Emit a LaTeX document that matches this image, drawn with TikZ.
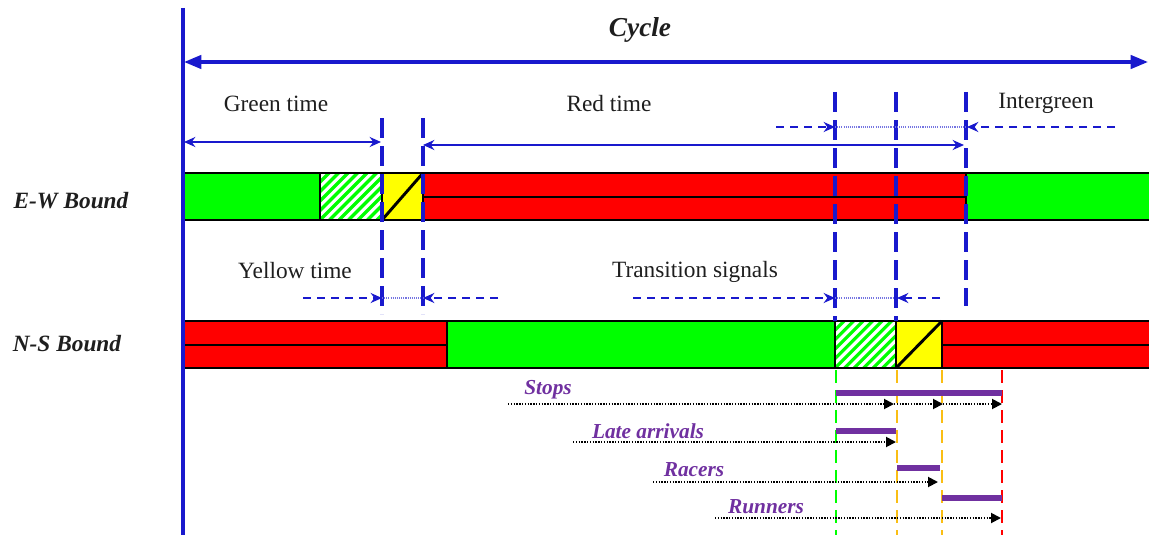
\documentclass[tikz,border=0pt]{standalone}
\usepackage{fontspec}
\setmainfont{Liberation Serif}
\usetikzlibrary{arrows.meta}
\definecolor{sigblue}{RGB}{25,25,205}
\definecolor{siggreen}{RGB}{0,255,0}
\definecolor{sigred}{RGB}{255,0,0}
\definecolor{sigyellow}{RGB}{255,255,0}
\definecolor{sigpurple}{RGB}{112,48,160}
\definecolor{sigorange}{RGB}{250,190,20}
\definecolor{txt}{RGB}{30,30,30}

% striped (hatched) phase box: x1, x2, top, bottom
\newcommand\hatchbox[4]{%
  \begin{scope}
    \clip (#1,#3) rectangle (#2,#4);
    \fill[white] (#1,#3) rectangle (#2,#4);
    \foreach \k in {-7,...,9}
      \draw[siggreen, line width=2.4pt] ({#1+\k*9.5},#4) -- ++(70,-70);
  \end{scope}
  \draw[seg] (#1,#3) rectangle (#2,#4);
}

\begin{document}
\begin{tikzpicture}[x=0.75pt,y=-0.75pt,
  lbl/.style={font=\fontsize{17.5}{20}\selectfont, text=txt, inner sep=0pt},
  bound/.style={font=\fontsize{17.5}{20}\selectfont\bfseries\itshape, text=txt, inner sep=0pt},
  cyc/.style={font=\fontsize{20.5}{24}\selectfont\bfseries\itshape, text=txt, inner sep=0pt},
  ptxt/.style={font=\fontsize{16}{19}\selectfont\bfseries\itshape, text=sigpurple, inner sep=0pt},
  seg/.style={draw=black, line width=2.2pt},
  guide/.style={draw=sigblue, line width=2.5pt, dash pattern=on 15pt off 6pt},
  span/.style={draw=sigblue, line width=1.8pt,
    {Stealth[length=8.5pt,width=7.5pt]}-{Stealth[length=8.5pt,width=7.5pt]}},
  gap/.style={draw=sigblue, line width=2pt, dash pattern=on 6pt off 4.5pt,
    -{Stealth[length=8.5pt,width=7.5pt]}},
  fine/.style={draw=sigblue!60, line width=1pt, dash pattern=on 0.8pt off 0.8pt},
  tick/.style={line width=1.8pt, dash pattern=on 10pt off 5pt},
  pbar/.style={draw=sigpurple, line width=4.6pt},
  flow/.style={draw=black, line width=1.4pt, dash pattern=on 1pt off 1.1pt,
    -{Triangle[length=7.5pt,width=7.5pt]}}
]
\useasboundingbox (0,0) rectangle (1149,535);

% ---- E-W signal bar ----
\draw[seg, fill=siggreen] (182,173) rectangle (320,220);
\hatchbox{320}{382}{173}{220}
\draw[seg, fill=sigyellow] (382,173) rectangle (423,220);
\draw[seg] (382,220) -- (423,173);
\draw[seg, fill=sigred] (423,173) rectangle (966,220);
\draw[seg] (423,197) -- (966,197);
\draw[seg, fill=siggreen] (966,173) rectangle (1155,220);

% ---- N-S signal bar ----
\draw[seg, fill=sigred] (182,321) rectangle (447,368);
\draw[seg] (182,345) -- (447,345);
\draw[seg, fill=siggreen] (447,321) rectangle (835,368);
\hatchbox{835}{896}{321}{368}
\draw[seg, fill=sigyellow] (896,321) rectangle (942,368);
\draw[seg] (896,368) -- (942,321);
\draw[seg, fill=sigred] (942,321) rectangle (1155,368);
\draw[seg] (942,345) -- (1155,345);

% ---- phase boundaries ----
\draw[guide] (382,118) -- (382,314);
\draw[guide] (423,118) -- (423,314);
\draw[guide] (835,92) -- (835,321);
\draw[guide] (896,92) -- (896,321);
\draw[guide] (966,92) -- (966,306);

% ---- time axis ----
\draw[sigblue, line width=2.4pt] (183,8) -- (183,535);
\draw[sigblue, line width=2.5pt,
  {Triangle[length=13pt,width=10pt]}-{Triangle[length=13pt,width=10pt]}]
  (184,62) -- (1148,62);
\node[cyc] (cycle) at (640,30) {Cycle};

% ---- interval spans ----
\node[lbl] (green) at (276,104) {Green time};
\draw[span] (184,142) -- (381,142);
\node[lbl] (redt) at (609,104) {Red time};
\draw[span] (423,145) -- (964,145);

\node[lbl] (inter) at (1046,103) {Intergreen};
\draw[gap] (776,127) -- (835,127);
\draw[fine] (835,127) -- (966,127);
\draw[gap] (1115,127) -- (967,127);

\node[lbl] (yellow) at (295,271) {Yellow time};
\draw[gap] (303,298) -- (382,298);
\draw[fine] (382,298) -- (423,298);
\draw[gap] (498,298) -- (423,298);

\node[lbl] (trans) at (695,272) {Transition signals};
\draw[gap] (633,298) -- (835,298);
\draw[fine] (835,298) -- (893,298);
\draw[gap] (940,298) -- (897,298);

% ---- lane labels ----
\node[bound] (ew) at (71,201) {E-W Bound};
\node[bound] (ns) at (67,344) {N-S Bound};

% ---- driver behaviour markers ----
\draw[tick, siggreen] (836,370) -- (836,535);
\draw[tick, sigorange] (897,370) -- (897,535);
\draw[tick, sigorange] (942,370) -- (942,535);
\draw[tick, sigred] (1002,370) -- (1002,535);

\node[ptxt] (stops) at (548,390) {Stops};
\draw[pbar] (836,393) -- (1002,393);
\draw[flow] (508,404) -- (894,404);
\draw[flow] (894,404) -- (943,404);
\draw[flow] (943,404) -- (1002,404);

\node[ptxt] (late) at (648,431) {Late arrivals};
\draw[pbar] (836,431) -- (896,431);
\draw[flow] (573,442) -- (896,442);

\node[ptxt] (racers) at (694,470) {Racers};
\draw[pbar] (897,468) -- (940,468);
\draw[flow] (653,482) -- (938,482);

\node[ptxt] (runners) at (766,507) {Runners};
\draw[pbar] (942,498) -- (1002,498);
\draw[flow] (715,518) -- (1001,518);
\end{tikzpicture}
\end{document}
